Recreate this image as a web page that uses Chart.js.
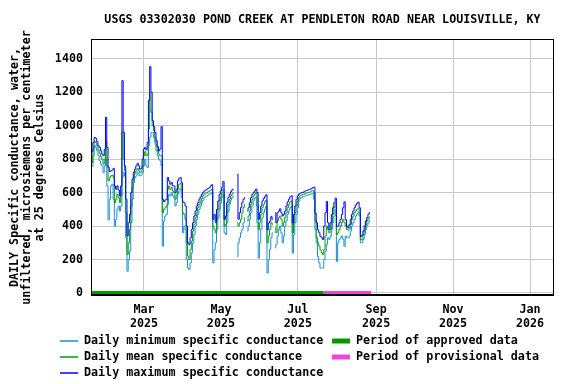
<!DOCTYPE html>
<html>
<head>
<meta charset="utf-8">
<script src="https://cdn.jsdelivr.net/npm/chart.js@4.4.0/dist/chart.umd.min.js"></script>
<style>html,body{margin:0;padding:0;background:#fff}</style>
</head>
<body>
<canvas id="myChart" width="576" height="384"></canvas>
<script>
// x values are day-of-year 2025 (Jan 1 = 1); first value is Jan 19
const firstDay = 19;

const maxValues = [
  845, 900, 930, 925, 905, 880, 870, 850, 830, 820,
  860, 1050, 870, 750, 726, 730, 735, 745, 640, 620,
  640, 615, 580, 640, 1270, 960, 760, 560, 340, 420,
  470, 600, 680, 720, 740, 760, 775, 760, 740, 745,
  800, 860, 870, 855, 900, 1150, 1353, 1200, 1030, 995,
  960, 910, 875, 850, 860, 995, 560, 545, 555, 560,
  690, 670, 650, 660, 640, 640, 600, 620, 670, 685,
  690, 660, 545, 540, 520, 400, 300, 290, 330, 380,
  420, 460, 490, 520, 540, 560, 575, 590, 600, 610,
  615, 620, 625, 630, 640, 647, 440, 470, 420, 500,
  550, 590, 610, 630, 666, 440, 460, 540, 570, 590,
  605, 615, 620, null, null, 710, 440, 480, 510, 540,
  560, 570, null, 490, 510, 540, 570, 590, 600, 610,
  621, 600, 440, 480, 520, 550, 565, 575, 587, 378,
  418, 430, 457, 440, null, 480, 420, 480, 490, 503,
  480, 460, 470, 490, 520, 545, 560, 575, 581, 418,
  470, 520, 560, 580, 590, 595, 600, 600, 605, 610,
  612, 615, 618, 620, 625, 630, 633, 478, 420, 378,
  360, 338, 330, 320, 400, 480, 547, 420, 380, 420,
  470, 510, 540, 567, 398, 400, 420, 440, 470, 510,
  545, 440, 400, 390, 410, 440, 470, 490, 510, 525,
  535, 543, 510, 338, 345, 370, 400, 430, 450, 470,
  481
];

const meanValues = [
  780, 860, 905, 900, 880, 855, 835, 815, 800, 770,
  800, 905, 760, 670, 690, 700, 705, 690, 540, 560,
  590, 570, 540, 580, 960, 800, 730, 480, 230, 300,
  380, 520, 630, 690, 715, 730, 745, 730, 720, 725,
  760, 820, 845, 820, 830, 980, 1195, 1080, 1000, 970,
  930, 880, 850, 830, 820, 820, 480, 500, 510, 520,
  620, 640, 620, 630, 610, 600, 560, 585, 620, 650,
  655, 620, 480, 470, 440, 300, 220, 200, 260, 310,
  370, 410, 450, 480, 510, 530, 550, 565, 580, 590,
  595, 600, 605, 610, 615, 620, 400, 380, 360, 440,
  500, 550, 575, 600, 620, 400, 410, 480, 530, 560,
  580, 590, 600, null, null, 420, 400, 420, 440, 480,
  510, 530, null, 430, 460, 490, 530, 560, 580, 590,
  600, 520, 380, 420, 470, 510, 530, 545, 555, 300,
  340, 380, 420, 410, null, 390, 360, 430, 450, 460,
  440, 400, 420, 450, 480, 510, 530, 545, 550, 358,
  420, 480, 520, 550, 570, 580, 585, 590, 590, 595,
  598, 600, 600, 605, 610, 612, 600, 430, 330, 300,
  280, 258, 240, 230, 260, 340, 400, 380, 360, 380,
  420, 470, 510, 537, 350, 360, 380, 400, 420, 440,
  420, 400, 380, 375, 385, 410, 440, 460, 480, 490,
  500, 505, 480, 318, 320, 345, 375, 405, 430, 445,
  455
];

const minValues = [
  756, 820, 880, 870, 850, 820, 790, 770, 760, 720,
  760, 800, 640, 437, 560, 640, 650, 560, 400, 440,
  500, 520, 490, 520, 690, 720, 700, 330, 130, 200,
  250, 420, 560, 660, 690, 700, 720, 710, 700, 705,
  720, 760, 800, 760, 750, 880, 930, 960, 960, 930,
  900, 850, 820, 800, 790, 760, 280, 430, 460, 470,
  530, 590, 580, 600, 580, 570, 520, 540, 590, 610,
  620, 570, 360, 400, 380, 200, 150, 140, 180, 240,
  300, 350, 400, 440, 470, 500, 520, 540, 555, 570,
  575, 580, 585, 590, 595, 600, 180, 260, 300, 380,
  450, 500, 540, 570, 590, 360, 350, 420, 490, 530,
  555, 570, 580, null, null, 218, 300, 330, 360, 380,
  420, 450, null, 370, 400, 440, 480, 520, 550, 565,
  575, 420, 209, 300, 380, 450, 480, 500, 520, 119,
  200, 260, 330, 360, null, 270, 290, 340, 380, 400,
  360, 300, 340, 400, 430, 470, 490, 510, 520, 239,
  350, 420, 470, 510, 550, 565, 570, 575, 578, 580,
  582, 585, 588, 590, 592, 595, 560, 378, 300, 218,
  180, 149, 149, 149, 200, 250, 290, 330, 320, 340,
  380, 420, 460, 500, 189, 300, 320, 330, 340, 320,
  278, 340, 330, 330, 340, 370, 400, 420, 440, 460,
  470, 480, 460, 300, 300, 320, 350, 380, 400, 420,
  435
];

// approval periods (day-of-year)
const approvedPeriod = [18, 202];
const provisionalPeriod = [202, 240];

// tick positions: Mar 1, May 1, Jul 1, Sep 1, Nov 1 2025, Jan 1 2026
const xTickDays = [60, 121, 182, 244, 305, 366];
const xTickLabels = [["Mar", "2025"], ["May", "2025"], ["Jul", "2025"], ["Sep", "2025"], ["Nov", "2025"], ["Jan", "2026"]];
const yTicks = [0, 200, 400, 600, 800, 1000, 1200, 1400];

const title = "USGS 03302030 POND CREEK AT PENDLETON ROAD NEAR LOUISVILLE, KY";
const yTitle = ["DAILY Specific conductance, water,", "unfiltered, microsiemens per centimeter", "at 25 degrees Celsius"];

const FONT = '"DejaVu Sans Mono", monospace';
const C_MIN = "#1a8fd8", C_MEAN = "#00a000", C_MAX = "#0000ff";
const C_APPR = "#009900", C_PROV = "#ee44dd";

const toPoints = (arr) => arr.map((v, i) => ({ x: firstDay + i, y: v }));
const spanPoints = (p) => [{ x: p[0], y: 0 }, { x: p[1], y: 0 }];

const legendItems = [
  { col: 0, row: 0, color: C_MIN, w: 1.5, text: "Daily minimum specific conductance" },
  { col: 0, row: 1, color: C_MEAN, w: 1.5, text: "Daily mean specific conductance" },
  { col: 0, row: 2, color: C_MAX, w: 1.5, text: "Daily maximum specific conductance" },
  { col: 1, row: 0, color: C_APPR, w: 5, text: "Period of approved data" },
  { col: 1, row: 1, color: C_PROV, w: 5, text: "Period of provisional data" },
];

const decor = {
  id: "decor",
  afterDraw(chart) {
    const c = chart.ctx;
    const a = chart.chartArea;
    c.save();
    c.fillStyle = "#000";
    c.font = "bold 11.7px " + FONT;
    c.textAlign = "center";
    c.textBaseline = "middle";
    c.fillText(title, (a.left + a.right) / 2, 20);

    // y axis title
    c.save();
    c.translate(27, (a.top + a.bottom) / 2);
    c.rotate(-Math.PI / 2);
    yTitle.forEach((t, i) => c.fillText(t, 0, (i - 1) * 12.5));
    c.restore();

    // frame
    c.strokeStyle = "#000";
    c.lineWidth = 1;
    c.strokeRect(a.left + 0.5, a.top + 0.5, a.right - a.left - 1, a.bottom - a.top - 1);
    c.beginPath();
    c.moveTo(a.left, a.bottom - 1.5);
    c.lineTo(a.right, a.bottom - 1.5);
    c.stroke();

    // legend
    c.textAlign = "left";
    legendItems.forEach((it) => {
      const x0 = it.col === 0 ? 60 : 332;
      const y = 341 + it.row * 16;
      c.strokeStyle = it.color;
      c.lineWidth = it.w;
      c.beginPath();
      c.moveTo(x0, y);
      c.lineTo(x0 + 18, y);
      c.stroke();
      c.fillText(it.text, x0 + 24, y);
    });
    c.restore();
  },
};

const ctx = document.getElementById("myChart");

new Chart(ctx, {
  type: "line",
  data: {
    datasets: [
      { label: "approved", data: spanPoints(approvedPeriod), borderColor: C_APPR, borderWidth: 4, pointRadius: 0, order: 0 },
      { label: "provisional", data: spanPoints(provisionalPeriod), borderColor: C_PROV, borderWidth: 4, pointRadius: 0, order: 0 },
      { label: "max", data: toPoints(maxValues), borderColor: C_MAX, borderWidth: 1, pointRadius: 0, stepped: "middle", order: 1 },
      { label: "mean", data: toPoints(meanValues), borderColor: C_MEAN, borderWidth: 1, pointRadius: 0, stepped: "middle", order: 2 },
      { label: "min", data: toPoints(minValues), borderColor: C_MIN, borderWidth: 1, pointRadius: 0, stepped: "middle", order: 3 },
    ],
  },
  options: {
    responsive: false,
    animation: false,
    layout: { padding: { top: 39, right: 22, left: 0, bottom: 0 } },
    plugins: {
      legend: { display: false },
      title: { display: false },
      tooltip: { enabled: false },
    },
    scales: {
      x: {
        type: "linear",
        min: 18,
        max: 385,
        afterFit: (s) => { s.height = 88; },
        afterBuildTicks: (s) => { s.ticks = xTickDays.map((v) => ({ value: v })); },
        ticks: {
          callback: (v, i) => xTickLabels[i],
          font: { family: FONT, size: 11.7, weight: "bold" },
          color: "#000",
          padding: 7,
          maxRotation: 0,
          autoSkip: false,
        },
        grid: { color: "#c8c8c8", drawTicks: false },
        border: { display: false },
      },
      y: {
        min: -18,
        max: 1518,
        afterFit: (s) => { s.width = 91; },
        afterBuildTicks: (s) => { s.ticks = yTicks.map((v) => ({ value: v })); },
        ticks: {
          callback: (v) => String(v),
          font: { family: FONT, size: 11.7, weight: "bold" },
          color: "#000",
          padding: 8,
        },
        grid: { color: "#c8c8c8", drawTicks: false },
        border: { display: false },
      },
    },
  },
  plugins: [decor],
});
</script>
</body>
</html>
